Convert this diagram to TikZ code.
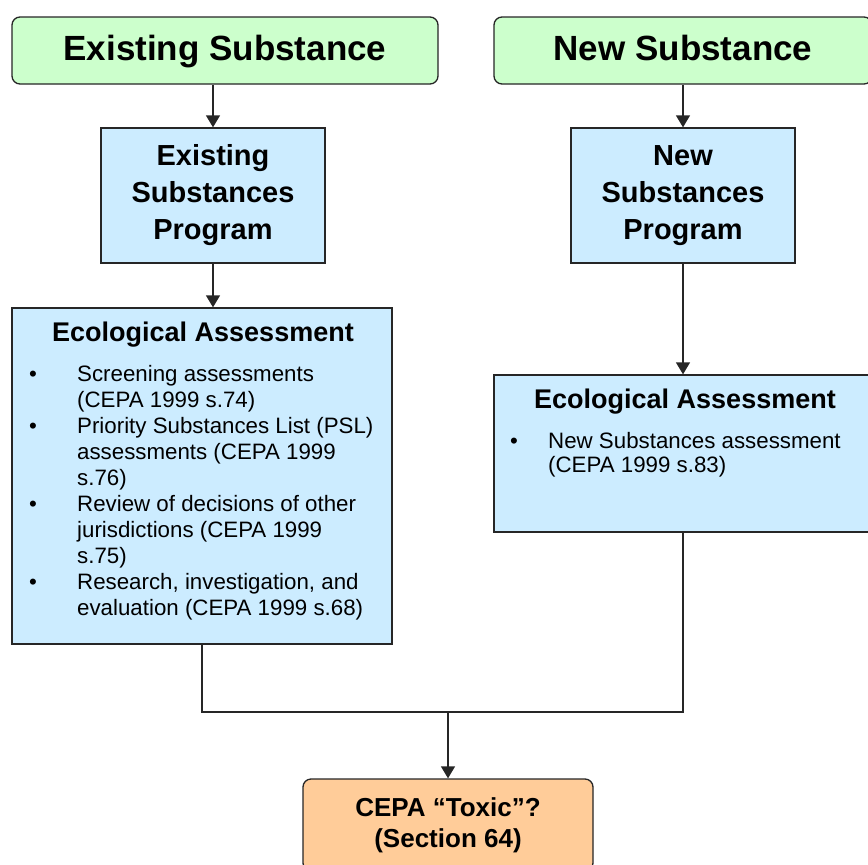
\documentclass[tikz,border=0pt]{standalone}
\usepackage{fontspec}
\setmainfont{Liberation Sans}
\usetikzlibrary{arrows.meta}

% colours of the boxes
\definecolor{startgreen}{HTML}{CCFFCC}
\definecolor{progblue}{HTML}{CCECFF}
\definecolor{endorange}{HTML}{FFCC99}

\tikzset{
  % rounded green boxes at the top
  startbox/.style={draw=black!85, fill=startgreen, rounded corners=8pt, line width=1.3pt,
    text height=26pt, text depth=7pt,
    font=\fontsize{35}{40}\selectfont\bfseries},
  % plain blue boxes
  progbox/.style={draw=black!85, fill=progblue, line width=1.3pt, align=center,
    font=\fontsize{29}{37}\selectfont\bfseries},
  % rounded orange box at the bottom
  endbox/.style={draw=black!85, fill=endorange, rounded corners=8pt, line width=1.3pt, align=center,
    font=\fontsize{26}{31}\selectfont\bfseries},
  boxtitle/.style={inner sep=0pt, font=\fontsize{27}{30}\selectfont\bfseries},
  listtext/.style={inner sep=0pt, anchor=north west, font=\fontsize{22.3}{26}\selectfont},
  flow/.style={draw=black!85, line width=1.3pt, -{Triangle[width=14pt,length=12pt]}},
  flowline/.style={draw=black!85, line width=1.3pt}
}

\begin{document}
\begin{tikzpicture}[x=1pt,y=-1pt]

  % frame of the picture, same size as the reference
  \useasboundingbox (0,0) rectangle (868,865);
  \clip (0,0) rectangle (868,865);

  % the two starting boxes
  \node[startbox, minimum width=426, minimum height=67] (exist) at (225,50.5) {Existing Substance};
  \node[startbox, minimum width=378, minimum height=67] (new) at (683,50.5) {New Substance};

  % the two programs
  \node[progbox, minimum width=224, minimum height=135] (esp) at (213,195.5)
    {Existing\\Substances\\Program};
  \node[progbox, minimum width=224, minimum height=135] (nsp) at (683,195.5)
    {New\\Substances\\Program};

  % left assessment box, with its title and list
  \node[draw=black!85, fill=progblue, line width=1.3pt, minimum width=380, minimum height=336] (ecoa) at (202,476) {};
  \node[boxtitle] (ecoatitle) at (203,335) {Ecological Assessment};
  \node[listtext] (ecoalist) at (29,363) {%
    \begin{tabular}{@{}p{48pt}@{}l@{}}
      \textbullet & Screening assessments\\
                  & (CEPA 1999 s.74)\\
      \textbullet & Priority Substances List (PSL)\\
                  & assessments (CEPA 1999\\
                  & s.76)\\
      \textbullet & Review of decisions of other\\
                  & jurisdictions (CEPA 1999\\
                  & s.75)\\
      \textbullet & Research, investigation, and\\
                  & evaluation (CEPA 1999 s.68)
    \end{tabular}};

  % right assessment box, with its title and list
  \node[draw=black!85, fill=progblue, line width=1.3pt, minimum width=378, minimum height=157] (ecob) at (683,453.5) {};
  \node[boxtitle] (ecobtitle) at (685,402) {Ecological Assessment};
  \node[listtext, font=\fontsize{22.3}{24}\selectfont] (ecoblist) at (510,431) {%
    \begin{tabular}{@{}p{38pt}@{}l@{}}
      \textbullet & New Substances assessment\\
                  & (CEPA 1999 s.83)
    \end{tabular}};

  % the question at the bottom
  \node[endbox, minimum width=290, minimum height=92] (toxic) at (448,825)
    {CEPA “Toxic”?\\(Section 64)};

  % arrows down each column
  \draw[flow] (esp.north |- exist.south) -- (esp.north);
  \draw[flow] (nsp.north |- new.south) -- (nsp.north);
  \draw[flow] (esp.south) -- (esp.south |- ecoa.north);
  \draw[flow] (nsp.south) -- (nsp.south |- ecob.north);

  % both assessments meet, then go down to the question
  \coordinate (join) at (toxic.north |- 0,712);
  \draw[flowline] (ecoa.south) |- (join);
  \draw[flowline] (ecob.south) |- (join);
  \draw[flow] (join) -- (toxic.north);

\end{tikzpicture}
\end{document}
